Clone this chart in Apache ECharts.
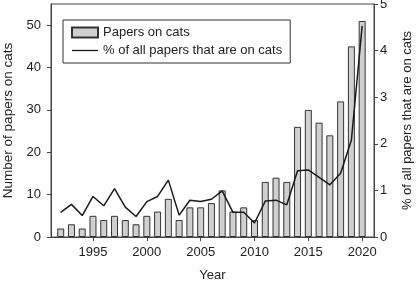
<!DOCTYPE html>
<html>
<head>
<meta charset="utf-8">
<script src="https://cdn.jsdelivr.net/npm/echarts@6/dist/echarts.min.js"></script>
<style>
  html, body { margin: 0; padding: 0; background: #fff; }
  #chart { width: 417px; height: 282px; }
</style>
</head>
<body>
<div id="chart"></div>
<script>
// years 1992..2020
const years = [1992, 1993, 1994, 1995, 1996, 1997, 1998, 1999, 2000, 2001,
  2002, 2003, 2004, 2005, 2006, 2007, 2008, 2009, 2010, 2011,
  2012, 2013, 2014, 2015, 2016, 2017, 2018, 2019, 2020];
const papersOnCats = [2, 3, 2, 5, 4, 5, 4, 3, 5, 6,
  9, 4, 7, 7, 8, 11, 6, 7, 4, 13,
  14, 13, 26, 30, 27, 24, 32, 45, 51];
const pctOnCats = [0.53, 0.70, 0.46, 0.87, 0.67, 1.04, 0.64, 0.44, 0.76, 0.87,
  1.22, 0.47, 0.79, 0.76, 0.81, 0.99, 0.53, 0.53, 0.30, 0.77,
  0.79, 0.69, 1.42, 1.44, 1.28, 1.12, 1.37, 2.08, 4.53];
const yearTicks = [1995, 2000, 2005, 2010, 2015, 2020];
const countTicks = [0, 10, 20, 30, 40, 50];

const FONT = "'Liberation Sans', Arial, sans-serif";
const INK = "#222";
const AXIS = "#444";
// thin horizontal stroke for the line legend entry (extra moveTo keeps the 26x10 box)
const LINE_ICON = "path://M0,0 M0,4.3 L28,4.3 L28,5.7 L0,5.7 Z M28,10";

const chart = echarts.init(document.getElementById("chart"), null, { renderer: "canvas" });

chart.setOption({
  animation: false,
  backgroundColor: "#fff",
  textStyle: { fontFamily: FONT, color: INK },
  grid: {
    left: 51, right: 43, top: 4, bottom: 45,
    outerBoundsMode: "none",
    show: true, borderColor: AXIS, borderWidth: 1, backgroundColor: "transparent",
  },
  legend: {
    left: 63, top: 20,
    orient: "vertical",
    selectedMode: false,
    itemWidth: 26, itemHeight: 10, itemGap: 5,
    padding: [6, 8, 6, 8],
    borderColor: "#333", borderWidth: 1,
    textStyle: { fontFamily: FONT, fontSize: 13, color: INK },
    data: [
      { name: "Papers on cats", icon: "rect" },
      { name: "% of all papers that are on cats", icon: LINE_ICON,
        itemStyle: { color: "#1a1a1a", borderWidth: 0 } },
    ],
  },
  xAxis: {
    type: "value",
    min: 1991.1,
    max: 2021.1,
    name: "Year",
    nameLocation: "middle",
    nameGap: 32,
    nameTextStyle: { fontFamily: FONT, fontSize: 13, color: INK },
    axisLine: { show: true, lineStyle: { color: AXIS, width: 1 } },
    axisTick: { show: true, length: 4, customValues: yearTicks, lineStyle: { color: AXIS } },
    axisLabel: {
      customValues: yearTicks, margin: 9, fontSize: 13, color: INK, fontFamily: FONT,
      formatter: (v) => String(Math.round(v)),
    },
    splitLine: { show: false },
  },
  yAxis: [
    {
      type: "value",
      min: 0, max: 55,
      position: "left",
      name: "Number of papers on cats",
      nameLocation: "middle",
      nameRotate: 90,
      nameGap: 32,
      nameTextStyle: { fontFamily: FONT, fontSize: 13.5, color: INK },
      axisLine: { show: true, lineStyle: { color: AXIS, width: 1 } },
      axisTick: { show: true, length: 4, customValues: countTicks, lineStyle: { color: AXIS } },
      axisLabel: { customValues: countTicks, margin: 10, fontSize: 13, color: INK, fontFamily: FONT },
      splitLine: { show: false },
    },
    {
      type: "value",
      min: 0, max: 5, interval: 1,
      position: "right",
      name: "% of all papers that are on cats",
      nameLocation: "middle",
      nameRotate: 90,
      nameGap: 27,
      nameTextStyle: { fontFamily: FONT, fontSize: 13, color: INK },
      axisLine: { show: true, lineStyle: { color: AXIS, width: 1 } },
      axisTick: { show: true, length: 4, lineStyle: { color: AXIS } },
      axisLabel: { margin: 6, fontSize: 13, color: INK, fontFamily: FONT },
      splitLine: { show: false },
    },
  ],
  series: [
    {
      name: "Papers on cats",
      type: "bar",
      yAxisIndex: 0,
      barWidth: 7,
      itemStyle: { color: "#d0d0d0", borderColor: "#333", borderWidth: 1 },
      data: years.map((y, i) => [y, papersOnCats[i]]),
      z: 2,
    },
    {
      name: "% of all papers that are on cats",
      type: "line",
      yAxisIndex: 1,
      symbol: "none",
      lineStyle: { color: "#1a1a1a", width: 1.5 },
      itemStyle: { color: "#1a1a1a" },
      data: years.map((y, i) => [y, pctOnCats[i]]),
      z: 3,
    },
  ],
});
</script>
</body>
</html>
